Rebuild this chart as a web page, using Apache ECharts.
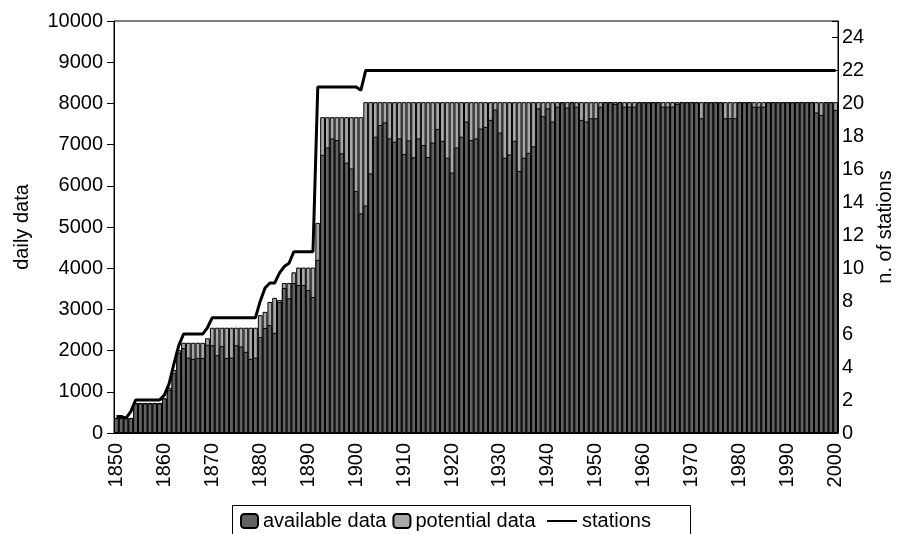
<!DOCTYPE html>
<html>
<head>
<meta charset="utf-8">
<script src="https://cdn.jsdelivr.net/npm/echarts@6/dist/echarts.min.js"></script>
<style>
  html, body { margin: 0; padding: 0; background: #fff; }
  #chart { width: 906px; height: 534px; }
</style>
</head>
<body>
<div id="chart"></div>
<script>
// years 1850 .. 2000, one bar per year
var years = []
for (var y = 1850; y <= 2000; y++) years.push(String(y))

// available daily data (dark bars), read per year from 1850
var availableData = [
  365, 365, 365, 365, 720, 720, 720, 720, 720, 720,            // 1850-1859
  840, 1050, 1450, 1950, 2060, 1830, 1800, 1820, 1820, 2140,   // 1860-1869
  2130, 1890, 2110, 1820, 1830, 2130, 2100, 1970, 1800, 1830,  // 1870-1879
  2330, 2550, 2620, 2430, 3180, 3520, 3270, 3640, 3590, 3590,  // 1880-1889
  3470, 3300, 4200, 6750, 6930, 7150, 7110, 6790, 6560, 6420,  // 1890-1899
  5870, 5330, 5520, 6300, 7190, 7475, 7540, 7150, 7070, 7150,  // 1900-1909
  6770, 7100, 6690, 7150, 6990, 6700, 7050, 7380, 7090, 6680,  // 1910-1919
  6320, 6930, 7190, 7560, 7110, 7150, 7390, 7430, 7600, 7850,  // 1920-1929
  7290, 6680, 6760, 7090, 6360, 6680, 6800, 6960, 7880, 7690,  // 1930-1939
  7880, 7560, 7920, 8030, 7900, 8030, 7920, 7600, 7560, 7640,  // 1940-1949
  7640, 7920, 8030, 8030, 7990, 8030, 7920, 7920, 7920, 8030,  // 1950-1959
  8030, 8030, 8030, 8030, 7920, 7920, 7920, 7990, 8030, 8030,  // 1960-1969
  8030, 8030, 7640, 8030, 8030, 8030, 8030, 7640, 7640, 7640,  // 1970-1979
  8030, 8030, 8030, 7920, 7920, 7920, 8030, 8030, 8030, 8030,  // 1980-1989
  8030, 8030, 8030, 8030, 8030, 8030, 7780, 7720, 8030, 8030,  // 1990-1999
  7840                                                         // 2000
]

// potential daily data (stations x days), top of the light bars
var potentialData = [
  365, 365, 365, 365, 730, 730, 730, 730, 730, 730,            // 1850-1859
  840, 1100, 1530, 2015, 2190, 2190, 2190, 2190, 2190, 2300,   // 1860-1869
  2555, 2555, 2555, 2555, 2555, 2555, 2555, 2555, 2555, 2555,  // 1870-1879
  2860, 2940, 3180, 3280, 3230, 3640, 3640, 3900, 4015, 4015,  // 1880-1889
  4015, 4015, 5100, 7665, 7665, 7665, 7665, 7665, 7665, 7665,  // 1890-1899
  7665, 7665, 8030, 8030, 8030, 8030, 8030, 8030, 8030, 8030,  // 1900-1909
  8030, 8030, 8030, 8030, 8030, 8030, 8030, 8030, 8030, 8030,  // 1910-1919
  8030, 8030, 8030, 8030, 8030, 8030, 8030, 8030, 8030, 8030,  // 1920-1929
  8030, 8030, 8030, 8030, 8030, 8030, 8030, 8030, 8030, 8030,  // 1930-1939
  8030, 8030, 8030, 8030, 8030, 8030, 8030, 8030, 8030, 8030,  // 1940-1949
  8030, 8030, 8030, 8030, 8030, 8030, 8030, 8030, 8030, 8030,  // 1950-1959
  8030, 8030, 8030, 8030, 8030, 8030, 8030, 8030, 8030, 8030,  // 1960-1969
  8030, 8030, 8030, 8030, 8030, 8030, 8030, 8030, 8030, 8030,  // 1970-1979
  8030, 8030, 8030, 8030, 8030, 8030, 8030, 8030, 8030, 8030,  // 1980-1989
  8030, 8030, 8030, 8030, 8030, 8030, 8030, 8030, 8030, 8030,  // 1990-1999
  8030                                                         // 2000
]

// number of stations (right axis)
var stations = [
  1, 1, 0.9, 1.3, 2, 2, 2, 2, 2, 2,                            // 1850-1859
  2.3, 3, 4.2, 5.3, 6, 6, 6, 6, 6, 6.4,                        // 1860-1869
  7, 7, 7, 7, 7, 7, 7, 7, 7, 7,                                // 1870-1879
  8, 8.8, 9.1, 9.1, 9.7, 10.1, 10.3, 11, 11, 11,               // 1880-1889
  11, 11, 21, 21, 21, 21, 21, 21, 21, 21,                      // 1890-1899
  21, 20.8, 22, 22, 22, 22, 22, 22, 22, 22,                    // 1900-1909
  22, 22, 22, 22, 22, 22, 22, 22, 22, 22,                      // 1910-1919
  22, 22, 22, 22, 22, 22, 22, 22, 22, 22,                      // 1920-1929
  22, 22, 22, 22, 22, 22, 22, 22, 22, 22,                      // 1930-1939
  22, 22, 22, 22, 22, 22, 22, 22, 22, 22,                      // 1940-1949
  22, 22, 22, 22, 22, 22, 22, 22, 22, 22,                      // 1950-1959
  22, 22, 22, 22, 22, 22, 22, 22, 22, 22,                      // 1960-1969
  22, 22, 22, 22, 22, 22, 22, 22, 22, 22,                      // 1970-1979
  22, 22, 22, 22, 22, 22, 22, 22, 22, 22,                      // 1980-1989
  22, 22, 22, 22, 22, 22, 22, 22, 22, 22,                      // 1990-1999
  22                                                           // 2000
]

var font = 'Liberation Sans, Arial, sans-serif'
var chart = echarts.init(document.getElementById('chart'), null, { renderer: 'canvas' })

var legendText = { fontSize: 20, fontFamily: font, color: '#000' }

var option = {
  animation: false,
  textStyle: { fontFamily: font, color: '#000' },
  grid: {
    left: 114, right: 68, top: 21, bottom: 101,
    show: true, borderColor: '#000', borderWidth: 1, backgroundColor: 'transparent'
  },
  // frame round the legend, its lower edge falls off the picture
  graphic: [{
    type: 'rect',
    shape: { x: 232.5, y: 505.5, width: 458, height: 40 },
    style: { fill: 'none', stroke: '#000', lineWidth: 1 }
  }],
  legend: [
    {
      left: 236, top: 507,
      padding: 4,
      itemGap: 6,
      itemWidth: 17, itemHeight: 14,
      textStyle: legendText,
      data: ['available data', 'potential data']
    },
    {
      left: 542, top: 507,
      padding: 4,
      itemWidth: 30, itemHeight: 14,
      textStyle: legendText,
      data: [{ name: 'stations', itemStyle: { opacity: 0 } }]
    }
  ],
  xAxis: {
    type: 'category',
    data: years,
    boundaryGap: true,
    axisLine: { lineStyle: { color: '#000', width: 1 } },
    axisTick: { show: false },
    axisLabel: {
      interval: 9, rotate: 90, fontSize: 20, color: '#000', margin: 10, fontFamily: font
    },
    splitLine: { show: false }
  },
  yAxis: [
    {
      type: 'value', min: 0, max: 10000, interval: 1000,
      name: 'daily data', nameLocation: 'middle', nameRotate: 90, nameGap: 82,
      nameTextStyle: { fontSize: 20, color: '#000', fontFamily: font },
      axisLine: { show: true, lineStyle: { color: '#000' } },
      axisTick: { show: true, length: 7, lineStyle: { color: '#000' } },
      axisLabel: {
        fontSize: 20, color: '#000', margin: 11, fontFamily: font,
        formatter: function (v) { return String(v) }
      },
      splitLine: { show: false }
    },
    {
      type: 'value', min: 0, max: 25, interval: 2,
      position: 'right',
      name: 'n. of stations', nameLocation: 'middle', nameRotate: 90, nameGap: 30,
      nameTextStyle: { fontSize: 20, color: '#000', fontFamily: font },
      axisLine: { show: true, lineStyle: { color: '#000' } },
      axisTick: { show: true, inside: true, length: 6, lineStyle: { color: '#000' } },
      axisLabel: {
        fontSize: 20, color: '#000', margin: 4, fontFamily: font,
        formatter: function (v) { return v > 24 ? '' : String(v) }
      },
      splitLine: { show: false }
    }
  ],
  series: [
    {
      name: 'potential data',
      type: 'bar',
      data: potentialData,
      barCategoryGap: '0%',
      barGap: '-100%',
      itemStyle: { color: '#a8a8a8', borderColor: '#000', borderWidth: 1 }
    },
    {
      name: 'available data',
      type: 'bar',
      data: availableData,
      barCategoryGap: '0%',
      barGap: '-100%',
      itemStyle: { color: '#626262', borderColor: '#000', borderWidth: 1 }
    },
    {
      name: 'stations',
      type: 'line',
      yAxisIndex: 1,
      data: stations,
      symbol: 'none',
      lineStyle: { color: '#000', width: 3 },
      itemStyle: { color: '#000' },
      z: 5
    }
  ]
}
chart.setOption(option)
</script>
</body>
</html>
